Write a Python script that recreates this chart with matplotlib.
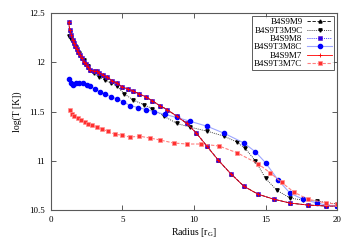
import matplotlib
matplotlib.use("Agg")
import matplotlib.pyplot as plt

plt.rcParams['font.family'] = ['Liberation Serif', 'DejaVu Serif']
plt.rcParams['mathtext.fontset'] = 'custom'
plt.rcParams['mathtext.rm'] = 'Liberation Serif'

# ---- data ----
labels = ["B4S9M9", "B4S9T3M9C", "B4S9M8", "B4S9T3M8C", "B4S9M7", "B4S9T3M7C"]

r_top = [1.26, 1.33, 1.45, 1.54, 1.63, 1.73, 1.82, 1.94, 2.05, 2.19, 2.33, 2.47, 2.61, 2.75,
         3.03, 3.22, 3.41, 3.69, 3.97, 4.30, 4.62, 5.0, 5.37, 5.74, 6.17, 6.63, 7.1, 7.61,
         8.13, 8.83, 9.5, 10.18, 10.9, 11.68, 12.56, 13.5, 14.48, 15.56, 16.72, 17.94, 19.24, 20.0]
t_m9 = [12.41, 12.33, 12.28, 12.23, 12.20, 12.17, 12.14, 12.10, 12.07, 12.04, 12.00, 11.98, 11.95, 11.92,
        11.91, 11.91, 11.89, 11.87, 11.85, 11.81, 11.79, 11.75, 11.73, 11.71, 11.68, 11.65, 11.61, 11.56,
        11.52, 11.45, 11.38, 11.28, 11.15, 11.01, 10.87, 10.74, 10.66, 10.61, 10.57, 10.55, 10.54, 10.54]
t_m8 = [12.41, 12.33, 12.28, 12.23, 12.20, 12.17, 12.14, 12.10, 12.07, 12.04, 12.00, 11.98, 11.95, 11.92,
        11.91, 11.91, 11.89, 11.87, 11.85, 11.81, 11.79, 11.75, 11.73, 11.71, 11.68, 11.65, 11.61, 11.56,
        11.52, 11.45, 11.38, 11.28, 11.15, 11.01, 10.87, 10.74, 10.66, 10.61, 10.57, 10.55, 10.54, 10.54]
t_m7 = [12.41, 12.33, 12.28, 12.23, 12.20, 12.17, 12.14, 12.10, 12.07, 12.04, 12.00, 11.98, 11.95, 11.92,
        11.91, 11.91, 11.89, 11.87, 11.85, 11.81, 11.79, 11.75, 11.73, 11.71, 11.68, 11.65, 11.61, 11.56,
        11.52, 11.45, 11.38, 11.28, 11.15, 11.01, 10.87, 10.74, 10.66, 10.61, 10.57, 10.55, 10.54, 10.54]

r_m9c = [1.26, 1.40, 1.55, 1.75, 2.0, 2.3, 2.6, 3.0, 3.4, 3.83, 4.2, 4.62, 5.14, 5.74, 6.49, 7.1,
         7.94, 8.8, 9.76, 10.93, 12.1, 13.0, 13.55, 14.3, 15.0, 15.8, 16.72, 17.6, 18.59, 20.0]
t_m9c = [12.27, 12.24, 12.21, 12.16, 12.09, 12.02, 11.96, 11.89, 11.85, 11.82, 11.79, 11.76, 11.68, 11.62,
         11.57, 11.53, 11.45, 11.38, 11.34, 11.30, 11.25, 11.19, 11.13, 11.00, 10.82, 10.70, 10.62, 10.60,
         10.59, 10.56]

r_m8c = [1.26, 1.40, 1.58, 1.77, 2.0, 2.24, 2.52, 2.75, 3.08, 3.45, 3.83, 4.2, 4.62, 5.05, 5.56, 6.12,
         6.68, 7.19, 8.0, 8.8, 9.76, 10.93, 12.1, 13.5, 14.3, 15.0, 15.9, 16.72, 17.6, 18.59, 19.24, 20.0]
t_m8c = [11.83, 11.79, 11.77, 11.79, 11.79, 11.79, 11.77, 11.76, 11.73, 11.70, 11.68, 11.65, 11.63, 11.60,
         11.56, 11.54, 11.52, 11.50, 11.47, 11.44, 11.40, 11.35, 11.28, 11.18, 11.09, 10.98, 10.80, 10.67,
         10.61, 10.57, 10.55, 10.54]

r_m7c = [1.35, 1.47, 1.65, 1.89, 2.12, 2.4, 2.64, 2.92, 3.24, 3.62, 4.0, 4.46, 4.98, 5.54, 6.2, 6.96,
         7.66, 8.59, 9.53, 10.51, 11.75, 13.03, 14.48, 15.3, 16.12, 17.0, 17.94, 19.24, 20.0]
t_m7c = [11.52, 11.48, 11.45, 11.43, 11.41, 11.39, 11.37, 11.36, 11.34, 11.32, 11.30, 11.27, 11.26, 11.24,
         11.25, 11.23, 11.21, 11.18, 11.17, 11.17, 11.15, 11.08, 10.97, 10.88, 10.78, 10.68, 10.61, 10.57,
         10.56]

x_ticks = [0, 5, 10, 15, 20]
y_ticks = [10.5, 11, 11.5, 12, 12.5]

# ---- plot ----
fig = plt.figure(figsize=(3.49, 2.43), dpi=100)
ax = fig.add_axes([0.145, 0.136, 0.821, 0.810])

lw = 0.6
ax.plot(r_top, t_m9, color='black', ls=(0, (4, 2)), lw=lw, marker='^', ms=2.2, label=labels[0])
ax.plot(r_m9c, t_m9c, color='black', ls=(0, (1, 1.5)), lw=lw, marker='v', ms=2.4, label=labels[1])
ax.plot(r_top, t_m8, color='#0000ff', ls=(0, (1, 1.5)), lw=lw, marker='s', ms=2.6,
        mfc='#2a00ee', mec='#5a10c0', mew=0.4, label=labels[2])
ax.plot(r_m8c, t_m8c, color='#9da6ff', ls='-', lw=0.8, marker='o', ms=3.0,
        mfc='#0000ff', mec='#0000ff', label=labels[3])
ax.plot(r_top, t_m7, color='#ff0000', ls='-', lw=lw, marker='+', ms=3.0, mew=0.6, label=labels[4])
ax.plot(r_m7c, t_m7c, color='#ff8080', ls=(0, (3, 1.5)), lw=0.8, marker='s', ms=2.6,
        mfc='#ff3030', mec='#ff9090', mew=0.5, label=labels[5])

ax.set_xlim(0, 20)
ax.set_ylim(10.5, 12.5)
ax.set_xticks(x_ticks)
ax.set_xticklabels([str(v) for v in x_ticks])
ax.set_yticks(y_ticks)
ax.set_yticklabels(['10.5', '11', '11.5', '12', '12.5'])
ax.tick_params(direction='in', length=3.5, width=0.6, top=True, right=True,
               labelsize=6.5, pad=4, colors='0.25', labelcolor='black')
for s in ax.spines.values():
    s.set_color('0.35')
    s.set_linewidth(0.8)

ax.set_xlabel(r'Radius [r$_\mathrm{G}$]', fontsize=7, labelpad=2)
ax.set_ylabel('log(T [K])', fontsize=7, labelpad=5)

leg = ax.legend(loc='upper right', fontsize=6.5, markerfirst=False, frameon=True, fancybox=False,
                borderpad=0.2, labelspacing=0.0, handlelength=2.8, handletextpad=0.5,
                borderaxespad=0.35)
leg.get_frame().set_edgecolor('0.2')
leg.get_frame().set_linewidth(0.7)
for t in leg.get_texts():
    t.set_ha('right')
leg._legend_box.align = "right"

fig.savefig('out.png', dpi=100)
